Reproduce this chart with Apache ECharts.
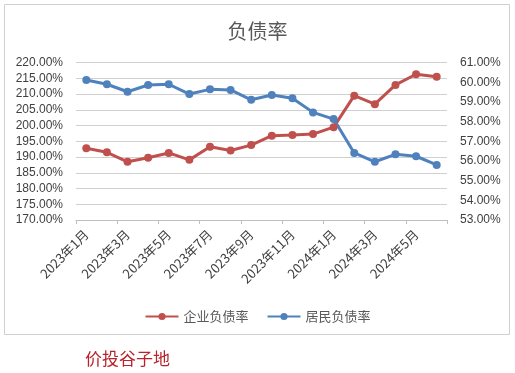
<!DOCTYPE html>
<html>
<head>
<meta charset="utf-8">
<script src="https://cdn.jsdelivr.net/npm/echarts@6/dist/echarts.min.js"></script>
<style>html,body{margin:0;padding:0;background:#fff}#c{width:515px;height:373px}</style>
</head>
<body>
<div id="c"></div>
<script>
const categories = ['2023年1月','2023年2月','2023年3月','2023年4月','2023年5月','2023年6月','2023年7月','2023年8月','2023年9月','2023年10月','2023年11月','2023年12月','2024年1月','2024年2月','2024年3月','2024年4月','2024年5月','2024年6月'];
const corporateLeverage = [192.8,191.5,188.5,189.8,191.3,189.1,193.3,192.1,193.8,196.8,197.0,197.3,199.5,209.5,206.8,212.9,216.3,215.5];
const householdLeverage = [60.12,59.90,59.52,59.86,59.90,59.40,59.64,59.61,59.11,59.35,59.19,58.47,58.13,56.41,55.96,56.34,56.24,55.80];
const seriesNames = ['企业负债率','居民负债率'];
const titleText = '负债率';
const watermarkText = '价投谷子地';

const FONT = '"Noto Sans CJK SC", "Liberation Sans", sans-serif';
const chart = echarts.init(document.getElementById('c'), null, {renderer:'canvas'});
chart.setOption({
  backgroundColor:'#fff',
  animation:false,
  title:{text:titleText,left:'center',top:16,textStyle:{fontFamily:FONT,fontSize:20,fontWeight:'normal',color:'#595959'}},
  graphic:[
    {type:'rect',shape:{x:4.5,y:4.5,width:505,height:330},style:{fill:'none',stroke:'#d0d0d0',lineWidth:1},z:-1},
    {type:'text',left:85,top:350,style:{text:watermarkText,fontFamily:FONT,fontSize:17,fill:'#b8232b'}}
  ],
  legend:{
    data:seriesNames,left:'center',top:305,itemWidth:33,itemHeight:9,itemGap:18,
    textStyle:{fontFamily:FONT,fontSize:13,color:'#595959'}
  },
  grid:{left:76,right:68,top:62.6,bottom:153,containLabel:false},
  xAxis:{
    type:'category',data:categories,boundaryGap:true,
    axisLine:{lineStyle:{color:'#bfbfbf'}},
    axisTick:{show:true,interval:1,length:4,lineStyle:{color:'#bfbfbf'}},
    axisLabel:{interval:1,rotate:45,margin:12,fontFamily:FONT,fontSize:13,color:'#404040'}
  },
  yAxis:[
    {type:'value',min:170,max:220,interval:5,
     axisLine:{show:false},axisTick:{show:false},
     splitLine:{lineStyle:{color:'#d0d0d0'}},
     axisLabel:{margin:13,fontFamily:'"Liberation Sans", Arial, sans-serif',fontSize:12,color:'#404040',formatter:v=>v.toFixed(2)+'%'}},
    {type:'value',min:53,max:61,interval:1,
     axisLine:{show:false},axisTick:{show:false},splitLine:{show:false},
     axisLabel:{margin:13,fontFamily:'"Liberation Sans", Arial, sans-serif',fontSize:12,color:'#404040',formatter:v=>v.toFixed(2)+'%'}}
  ],
  series:[
    {name:seriesNames[0],type:'line',yAxisIndex:0,data:corporateLeverage,symbol:'circle',symbolSize:8,
     lineStyle:{width:3,color:'#C0504D'},itemStyle:{color:'#C0504D'}},
    {name:seriesNames[1],type:'line',yAxisIndex:1,data:householdLeverage,symbol:'circle',symbolSize:8,
     lineStyle:{width:3,color:'#4F81BD'},itemStyle:{color:'#4F81BD'}}
  ]
});
</script>
</body>
</html>
